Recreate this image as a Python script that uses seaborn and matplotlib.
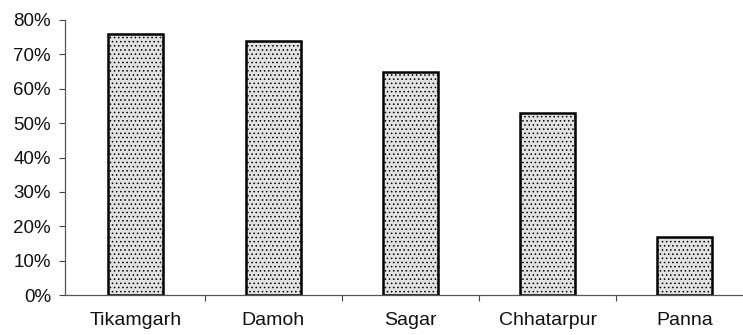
import matplotlib
matplotlib.use("Agg")
import matplotlib.pyplot as plt
import seaborn as sns
import pandas as pd
import numpy as np
from matplotlib.ticker import FixedLocator, PercentFormatter

districts = ["Tikamgarh", "Damoh", "Sagar", "Chhatarpur", "Panna"]
values = [76, 74, 65, 53, 17]
yticks = [0, 10, 20, 30, 40, 50, 60, 70, 80]

sns.set_theme(style="white")
plt.rcParams['font.family'] = ['Liberation Sans', 'DejaVu Sans']
plt.rcParams['hatch.color'] = '#7a7a7a'
plt.rcParams['hatch.linewidth'] = 0.6

df = pd.DataFrame({"district": districts, "value": values})

fig = plt.figure(figsize=(7.43, 3.35), dpi=100)
ax = fig.add_axes([65/743, 40/335, 678/743, 275/335])

sns.barplot(data=df, x="district", y="value", ax=ax, width=0.4,
            color="#e2e2e2", edgecolor="black", linewidth=1.8, saturation=1)
for p in ax.patches:
    p.set_hatch('....')

ax.set_xlim(-0.517, 4.424)
ax.set_ylim(0, 80)
ax.set_yticks(yticks)
ax.yaxis.set_major_formatter(PercentFormatter(decimals=0))
ax.set_xlabel("")
ax.set_ylabel("")

ax.xaxis.set_minor_locator(FixedLocator(np.arange(0.5, len(districts) - 0.5, 1)))
ax.tick_params(axis='x', which='major', length=0, pad=12, labelsize=14, colors='#111111')
ax.tick_params(axis='x', which='minor', length=4, width=0.8, color='#444444', direction='out', bottom=True)
ax.tick_params(axis='y', which='major', length=4, width=0.8, color='#444444', direction='out',
               left=True, pad=6, labelsize=13.5, labelcolor='#111111')

for s in ['top', 'right']:
    ax.spines[s].set_visible(False)
for s in ['left', 'bottom']:
    ax.spines[s].set_color('#555555')
    ax.spines[s].set_linewidth(0.9)

fig.savefig("out.png", dpi=100)
